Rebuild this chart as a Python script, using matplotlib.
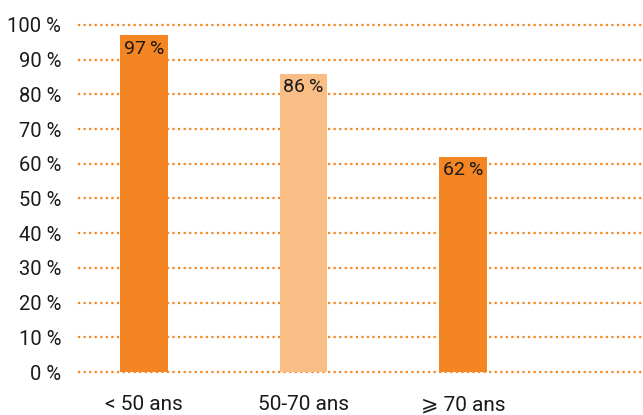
import matplotlib.pyplot as plt

plt.rcParams['font.family'] = ['Roboto', 'DejaVu Sans']

categories = ['< 50 ans', '50-70 ans', '⩾ 70 ans']
values = [97, 86, 62]
colors = ['#F38522', '#F9BE86', '#F38522']
yticks = list(range(0, 101, 10))

fig = plt.figure(figsize=(6.43, 4.15), dpi=100)
ax = fig.add_axes([78 / 643, 40.9 / 415, 565 / 643, 351.2 / 415])

ax.bar(range(len(values)), values, width=0.30, color=colors, zorder=3)

for i, v in enumerate(values):
    ax.text(i, v - 1.2, f'{v}\u2009%', ha='center', va='top', fontsize=14, color='#1a1a1a', zorder=4)

ax.set_ylim(-0.6, 100.6)
ax.set_xlim(-0.414, 3.13)
ax.set_yticks(yticks)
ax.set_yticklabels([f'{t} %' for t in yticks], fontsize=14.5, color='#1a1a1a')
ax.set_xticks(range(len(categories)))
ax.set_xticklabels(categories, fontsize=15, color='#1a1a1a')
ax.tick_params(axis='y', length=0, pad=12)
ax.tick_params(axis='x', length=0, pad=15)

ax.yaxis.grid(True, color='#F38522', linestyle=(0, (1, 1.5)), linewidth=1.6, zorder=0)
ax.set_axisbelow(True)
for s in ax.spines.values():
    s.set_visible(False)

fig.savefig('out.png', dpi=100)
